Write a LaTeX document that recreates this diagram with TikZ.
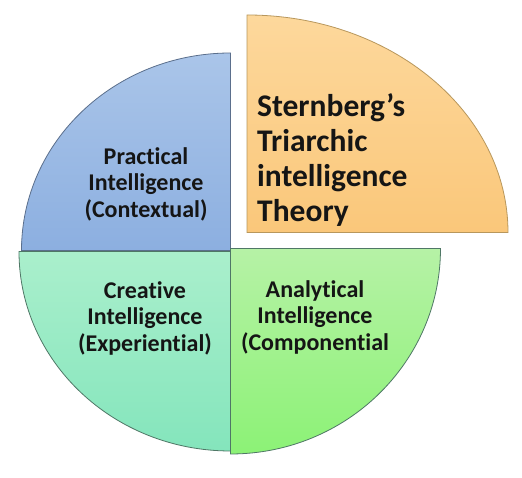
\documentclass[tikz,border=0pt]{standalone}
\usepackage{fontspec}
\setmainfont{Carlito}[Ligatures=NoCommon]
\definecolor{bluetop}{HTML}{AAC5E9}
\definecolor{bluebot}{HTML}{8CAFE0}
\definecolor{blueedge}{HTML}{5B6F8C}
\definecolor{orangetop}{HTML}{FDD89C}
\definecolor{orangebot}{HTML}{FAC77A}
\definecolor{orangeedge}{HTML}{B8975C}
\definecolor{tealtop}{HTML}{AAEFCC}
\definecolor{tealbot}{HTML}{84E5BC}
\definecolor{greentop}{HTML}{B6F2A6}
\definecolor{greenbot}{HTML}{8CF276}
\definecolor{greenedge}{HTML}{4F7766}
\definecolor{txt}{HTML}{151515}
\begin{document}
\begin{tikzpicture}[x=1pt,y=1pt,
  sector/.style={line width=0.8pt, line join=miter},
  lbl/.style={font=\bfseries\fontsize{24}{26.5}\selectfont, text=txt, align=center, inner sep=0pt},
  title/.style={font=\bfseries\fontsize{31.5}{35}\selectfont, text=txt, align=left, inner sep=0pt}]
\useasboundingbox[fill=white] (0,0) rectangle (522,478);
% blue (top-left)
\path[sector, draw=blueedge, top color=bluetop, bottom color=bluebot]
  (230.5,227.5) -- (21.5,227.5) arc[start angle=180, end angle=90, x radius=209, y radius=197.5] -- cycle;
% orange (top-right)
\path[sector, draw=orangeedge, top color=orangetop, bottom color=orangebot]
  (247,245.5) -- (508,245.5) arc[start angle=0, end angle=90, x radius=261, y radius=217.5] -- cycle;
% teal (bottom-left)
\path[sector, draw=greenedge, top color=tealtop, bottom color=tealbot]
  (230.5,226.5) -- (19,226.5) arc[start angle=180, end angle=270, x radius=211.5, y radius=199.5] -- cycle;
% green (bottom-right)
\path[sector, draw=greenedge, top color=greentop, bottom color=greenbot]
  (230.5,229.5) -- (440.5,229.5) arc[start angle=0, end angle=-90, x radius=210, y radius=205.5] -- cycle;
\node[lbl] (practical) at (146,294) {Practical\\Intelligence\\(Contextual)};
\node[lbl] (creative) at (145,160) {Creative\\Intelligence\\(Experiential)};
\node[lbl] (analytical) at (315,161) {Analytical\\Intelligence\\(Componential};
\node[title, anchor=west] (theory) at (257,318) {Sternberg’s\\Triarchic\\intelligence\\Theory};
\end{tikzpicture}
\end{document}
